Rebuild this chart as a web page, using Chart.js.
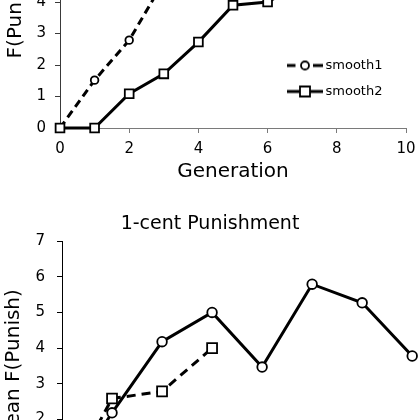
<!DOCTYPE html>
<html>
<head>
<meta charset="utf-8">
<script src="https://cdn.jsdelivr.net/npm/chart.js@4.4.1/dist/chart.umd.min.js"></script>
<style>
  body { margin: 0; background: #fff; }
  #wrap { position: relative; width: 420px; height: 420px; overflow: hidden; background: #fff; }
  canvas { position: absolute; left: 0; }
</style>
</head>
<body>
<div id="wrap">
  <canvas id="topChart" width="420" height="304" style="top:-120px"></canvas>
  <canvas id="bottomChart" width="420" height="360" style="top:209px"></canvas>
</div>
<script>
// top panel: generations and the two smooth series
const topGenerations = [0, 1, 2, 3, 4, 5, 6, 7];
const smooth1 = [0, 1.52, 2.79, 4.66];
const smooth2 = [0, 0, 1.09, 1.72, 2.73, 3.9, 4.0, 4.6];
const topLabels = ['smooth1', 'smooth2'];

// bottom panel: 1-cent punishment
const bottomGenerations = [0, 1, 2, 3, 4, 5, 6, 7];
const centSolid = [0, 2.19, 4.18, 5.0, 3.47, 5.79, 5.27, 3.78];
const centDashed = [0, 2.59, 2.79, 4.0];

Chart.defaults.font.family = 'DejaVu Sans';
Chart.defaults.color = '#000';

function points(xs, ys) {
    return ys.map((y, i) => ({ x: xs[i], y: y }));
}

// little line+marker swatch for the legend
function swatch(kind) {
    const c = document.createElement('canvas');
    c.width = 36;
    c.height = 14;
    const g = c.getContext('2d');
    g.strokeStyle = '#000';
    g.lineWidth = 3;
    g.beginPath();
    if (kind === 'circle') {
        g.moveTo(0, 7); g.lineTo(8.5, 7);
        g.moveTo(26, 7); g.lineTo(36, 7);
    } else {
        g.moveTo(0, 7); g.lineTo(36, 7);
    }
    g.stroke();
    g.fillStyle = '#fff';
    g.lineWidth = 1.8;
    g.beginPath();
    if (kind === 'circle') {
        g.arc(18, 7, 4, 0, Math.PI * 2);
    } else {
        g.rect(13, 2, 10, 10);
    }
    g.fill();
    g.stroke();
    return c;
}

const legendMover = {
    id: 'legendMover',
    afterLayout(chart) {
        const lg = chart.legend;
        if (!lg) return;
        lg.left = 278;
        lg.top = 166;
        lg.right = lg.left + 140;
        lg.bottom = lg.top + 80;
    }
};

function axisBase(color) {
    return {
        border: { color: color, width: 1 },
        grid: { drawOnChartArea: false, drawTicks: true, tickLength: 5, color: color, tickColor: color },
        ticks: { font: { size: 15 }, color: '#000' }
    };
}

// fixed axis size and no extra room for the end labels
function noPad(scale) {
    scale.paddingLeft = 0;
    scale.paddingRight = 0;
    scale.paddingTop = 0;
    scale.paddingBottom = 0;
}
function fixX(h) {
    return (scale) => { scale.height = h; noPad(scale); };
}
function fixY(w) {
    return (scale) => { scale.width = w; noPad(scale); };
}

const topX = axisBase('#7a7a7a');
topX.type = 'linear';
topX.min = 0;
topX.max = 10;
topX.ticks.stepSize = 2;
topX.ticks.padding = 7;
topX.title = { display: true, text: 'Generation', font: { size: 20 }, color: '#000', padding: 0 };
topX.afterFit = fixX(56);

const topY = axisBase('#3a3a3a');
topY.min = 0;
topY.max = 7.37;
topY.bounds = 'data';
topY.ticks.stepSize = 1;
topY.ticks.includeBounds = false;
topY.ticks.padding = 9;
topY.title = { display: true, text: 'F(Punish)', font: { size: 20 }, color: '#000', padding: { top: 3.5, bottom: 0 } };
topY.afterFit = fixY(60);

new Chart(document.getElementById('topChart'), {
    type: 'line',
    data: {
        datasets: [
            {
                label: topLabels[0],
                data: points(topGenerations, smooth1),
                borderColor: '#000',
                borderWidth: 3,
                borderDash: [8, 5],
                pointStyle: 'circle',
                pointRadius: 3.8,
                pointBorderWidth: 1.8,
                pointBackgroundColor: '#fff',
                pointBorderColor: '#000',
                tension: 0,
                clip: false,
                order: 2
            },
            {
                label: topLabels[1],
                data: points(topGenerations, smooth2),
                borderColor: '#000',
                borderWidth: 3,
                pointStyle: 'rect',
                pointRadius: 6.2,
                pointBorderWidth: 1.8,
                pointBackgroundColor: '#fff',
                pointBorderColor: '#000',
                tension: 0,
                clip: false,
                order: 1
            }
        ]
    },
    options: {
        responsive: false,
        animation: false,
        layout: { padding: { top: 16, right: 14, bottom: 0, left: 0 } },
        scales: { x: topX, y: topY },
        plugins: {
            tooltip: { enabled: false },
            legend: {
                position: 'chartArea',
                align: 'start',
                labels: {
                    font: { size: 13 },
                    color: '#000',
                    usePointStyle: true,
                    pointStyleWidth: 28,
                    padding: 13,
                    generateLabels: (chart) => chart.data.datasets.map((ds, i) => ({
                        text: ds.label,
                        pointStyle: swatch(i === 0 ? 'circle' : 'rect'),
                        fillStyle: '#fff',
                        strokeStyle: '#000',
                        lineWidth: 0,
                        hidden: false,
                        datasetIndex: i
                    }))
                }
            }
        }
    },
    plugins: [legendMover]
});

// bottom x axis sits below the visible crop, so its labels are not drawn
const botX = axisBase('#000');
botX.type = 'linear';
botX.min = 0;
botX.max = 6.98;
botX.bounds = 'data';
botX.ticks.stepSize = 1;
botX.ticks.display = false;
botX.title = { display: false, text: 'Generation' };
botX.afterFit = fixX(78);

const botY = axisBase('#000');
botY.min = 0;
botY.max = 7;
botY.ticks.stepSize = 1;
botY.ticks.padding = 12;
botY.title = { display: true, text: 'Mean F(Punish)', font: { size: 20 }, color: '#000', padding: { top: 0, bottom: 0 } };
botY.afterFit = fixY(60);

new Chart(document.getElementById('bottomChart'), {
    type: 'line',
    data: {
        datasets: [
            {
                label: 'series 1',
                data: points(bottomGenerations, centSolid),
                borderColor: '#000',
                borderWidth: 3,
                pointStyle: 'circle',
                pointRadius: 4.8,
                pointBorderWidth: 1.8,
                pointBackgroundColor: '#fff',
                pointBorderColor: '#000',
                tension: 0,
                clip: false
            },
            {
                label: 'series 2',
                data: points(bottomGenerations, centDashed),
                borderColor: '#000',
                borderWidth: 3,
                borderDash: [9, 6],
                pointStyle: 'rect',
                pointRadius: 7,
                pointBorderWidth: 1.8,
                pointBackgroundColor: '#fff',
                pointBorderColor: '#000',
                tension: 0,
                clip: false
            }
        ]
    },
    options: {
        responsive: false,
        animation: false,
        layout: { padding: { top: 0, right: 2, bottom: 0, left: 2 } },
        scales: { x: botX, y: botY },
        plugins: {
            tooltip: { enabled: false },
            legend: { display: false },
            title: {
                display: true,
                text: '1-cent Punishment',
                font: { size: 19, weight: 'normal' },
                color: '#000',
                padding: { top: 4, bottom: 5.2 }
            }
        }
    }
});
</script>
</body>
</html>
